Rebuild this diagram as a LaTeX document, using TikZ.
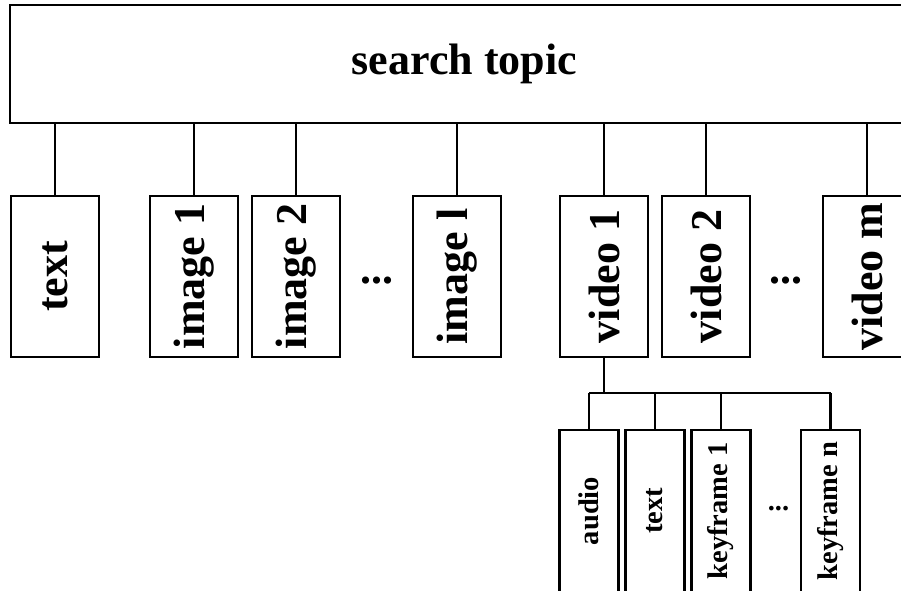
\documentclass[tikz,border=0pt]{standalone}
\usepackage{fontspec}
\setmainfont{Liberation Serif}
\usepackage{graphicx}
\begin{document}
\begin{tikzpicture}[x=1pt,y=-1pt,
  box/.style={draw,line width=2.4pt,inner sep=0pt,align=center,font=\bfseries\fontsize{44}{48}\selectfont},
  bigbox/.style={box,minimum width=88pt,minimum height=161pt},
  smallbox/.style={draw,line width=2.4pt,inner sep=0pt,minimum width=59pt,minimum height=162pt,font=\bfseries\fontsize{28.5}{32}\selectfont},
  conn/.style={line width=2.2pt},
  dots/.style={inner sep=0pt,font=\bfseries\fontsize{44}{48}\selectfont},
  sdots/.style={inner sep=0pt,font=\bfseries\fontsize{28.5}{32}\selectfont}]
\useasboundingbox (0,0) rectangle (901,590);
\clip (0,0) rectangle (901,590);
\node[box,minimum width=909pt,minimum height=118pt] (top) at (464.5,64) {search topic};
\node[bigbox] (t)  at (55,276.5)  {\rotatebox{90}{text}};
\node[bigbox] (i1) at (194,276.5) {\rotatebox{90}{image 1}};
\node[bigbox] (i2) at (296,276.5) {\rotatebox{90}{image 2}};
\node[dots]   (d1) at (377,281)   {...};
\node[bigbox] (il) at (457,276.5) {\rotatebox{90}{image l}};
\node[bigbox] (v1) at (604,276.5) {\rotatebox{90}{video 1}};
\node[bigbox] (v2) at (706,276.5) {\rotatebox{90}{video 2}};
\node[dots]   (d2) at (786,281)   {...};
\node[bigbox] (vm) at (867,276.5) {\rotatebox{90}{video m}};
\foreach \n in {t,i1,i2,il,v1,v2,vm}{
  \draw[conn] (\n.north) -- (\n.north |- top.south);
}
\node[smallbox] (au) at (589,511) {\rotatebox{90}{audio}};
\node[smallbox] (tx) at (655,511) {\rotatebox{90}{text}};
\node[smallbox] (k1) at (721,511) {\rotatebox{90}{keyframe 1}};
\node[sdots]    (d3) at (778.5,509) {...};
\node[smallbox] (kn) at (830.5,511) {\rotatebox{90}{keyframe n}};
\coordinate (br) at (604,393);
\draw[conn] (v1.south) -- (br);
\draw[conn] (au.north |- br) -- (kn.north |- br);
\foreach \n in {au,tx,k1,kn}{
  \draw[conn] (\n.north) -- (\n.north |- br);
}
\end{tikzpicture}
\end{document}
